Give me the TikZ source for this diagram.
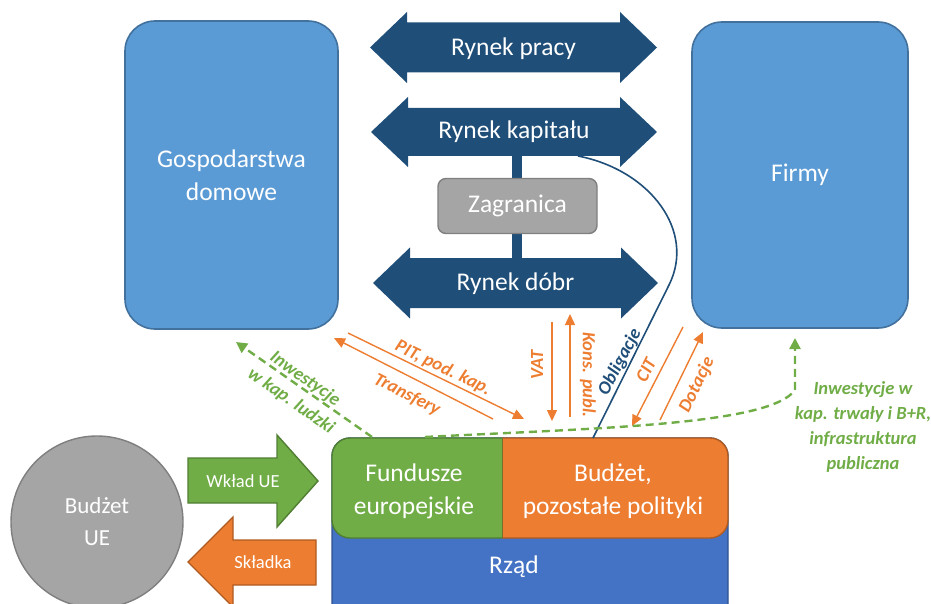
\documentclass[tikz,border=0pt]{standalone}
\usepackage{fontspec}
\setmainfont{Carlito}
\usetikzlibrary{arrows.meta}
\definecolor{boxblue}{HTML}{5B9BD5}
\definecolor{boxblueD}{HTML}{41719C}
\definecolor{navy}{HTML}{1F4E79}
\definecolor{grayF}{HTML}{A5A5A5}
\definecolor{grayD}{HTML}{7F7F7F}
\definecolor{gr}{HTML}{70AD47}
\definecolor{grD}{HTML}{507E32}
\definecolor{org}{HTML}{ED7D31}
\definecolor{orgD}{HTML}{AE5A21}
\definecolor{rz}{HTML}{4472C4}
\definecolor{rzD}{HTML}{2F528F}
\begin{document}
\begin{tikzpicture}[x=1pt,y=-1pt,
  bigtxt/.style={text=white,font=\fontsize{25.5}{33}\selectfont,align=center},
  sector/.style={draw=boxblueD,line width=1.6pt,fill=boxblue,rounded corners=30pt,
     bigtxt},
  mkt/.style={fill=navy},
  lab/.style={font=\fontsize{18.5}{22}\selectfont\bfseries\itshape,text=org,inner sep=0pt,align=center},
  glab/.style={lab,text=gr,font=\fontsize{18.5}{25}\selectfont\bfseries\itshape},
  flow/.style={draw=org,line width=1.4pt,-{Triangle[length=11pt,width=10pt]}},
  gflow/.style={draw=gr,line width=2.4pt,dash pattern=on 8pt off 5pt,-{Triangle[length=11pt,width=11pt]}},
  oblig/.style={draw=navy,line width=1.6pt}
]
\useasboundingbox (0,0) rectangle (931,604);

% sectors
\node[sector,minimum width=213pt,minimum height=308pt] (gosp) at (231.5,175) {Gospodarstwa\\domowe};
\node[sector,minimum width=216pt,minimum height=306pt] (firmy) at (800,175) {Firmy};

% market double arrows
\fill[mkt] (370,47.5) -- (407,12) -- (407,22.5) -- (620,22.5) -- (620,12) -- (657,47.5) -- (620,83) -- (620,72.5) -- (407,72.5) -- (407,83) -- cycle;
\node[bigtxt] (praca) at (513.5,48.5) {Rynek pracy};

\fill[mkt] (371,132) -- (408,97) -- (408,108) -- (620,108) -- (620,97) -- (657,132) -- (620,167) -- (620,156) -- (408,156) -- (408,167) -- cycle;
\node[bigtxt] (kapital) at (514,132) {Rynek kapitału};

% vertical link through Zagranica
\coordinate (kapB) at (517,150);
\coordinate (dobT) at (517,262);
\draw[navy,line width=10pt] (kapB) -- (dobT);

\fill[mkt] (373,283) -- (410,247.5) -- (410,258) -- (621,258) -- (621,247.5) -- (658,283) -- (621,318.5) -- (621,308) -- (410,308) -- (410,318.5) -- cycle;
\node[bigtxt] (dobra) at (515.5,284) {Rynek dóbr};

\node[draw=grayD,line width=1.4pt,fill=grayF,rounded corners=8pt,minimum width=159pt,minimum height=55pt,bigtxt] (zagr) at (517.5,206) {Zagranica};

% government block
\fill[rz,draw=rzD,line width=1.4pt,rounded corners=18pt] (332,438) rectangle (728,640);
\begin{scope}
  \clip (320,425) rectangle (502,550);
  \fill[gr,draw=grD,line width=1.4pt,rounded corners=18pt] (332,438) rectangle (728,538);
\end{scope}
\begin{scope}
  \clip (502,425) rectangle (740,550);
  \fill[org,draw=orgD,line width=1.4pt,rounded corners=18pt] (332,438) rectangle (728,538);
\end{scope}
\draw[grD!60!orgD,line width=1pt] (502,438) -- (502,538);
\node[bigtxt] (fund) at (414,491) {Fundusze\\europejskie};
\node[bigtxt] (budz) at (613,491) {Budżet,\\pozostałe polityki};
\node[bigtxt] (rzad) at (514,567) {Rząd};

% EU budget
\node[circle,draw=grayD,line width=1.4pt,fill=grayF,minimum size=172pt,text=white,
      font=\fontsize{23}{32}\selectfont,align=center] (ue) at (97,522) {Budżet\\UE};

% Wklad / Skladka arrows
\fill[gr,draw=grD,line width=1.4pt] (188,458) -- (277,458) -- (277,435) -- (318,481) -- (277,527) -- (277,503) -- (188,503) -- cycle;
\node[text=white,font=\fontsize{18.5}{22}\selectfont] (wklad) at (243,481) {Wkład UE};
\fill[org,draw=orgD,line width=1.4pt] (188,562) -- (233,517) -- (233,540) -- (316,540) -- (316,585) -- (233,585) -- (233,607) -- cycle;
\node[text=white,font=\fontsize{18.5}{22}\selectfont] (skladka) at (263,562) {Składka};

% Obligacje
\coordinate (oblS) at (578,156);
\coordinate (oblE) at (593,438);
\draw[oblig] (oblS) .. controls (650,170) and (696,231) .. (669,285) -- (oblE);
\node[lab,text=navy,rotate=62] (obl) at (620,362) {Obligacje};

% orange flows
\coordinate (pitS) at (348,333); \coordinate (pitE) at (524,419);
\draw[flow] (pitS) -- (pitE);
\node[lab,rotate=-26] (pit) at (443,368) {PIT, pod. kap.};
\coordinate (trS) at (493,419); \coordinate (trE) at (334,338);
\draw[flow] (trS) -- (trE);
\node[lab,rotate=-27] (transf) at (407,395) {Transfery};

\coordinate (vatS) at (552,322); \coordinate (vatE) at (552,421);
\draw[flow] (vatS) -- (vatE);
\node[lab,rotate=90] (vat) at (537,365) {VAT};
\coordinate (konS) at (570,417); \coordinate (konE) at (570,314);
\draw[flow] (konS) -- (konE);
\node[lab,rotate=-90] (kons) at (588,375) {Kons. publ.};

\coordinate (citS) at (683,327); \coordinate (citE) at (632,426);
\draw[flow] (citS) -- (citE);
\node[lab,rotate=63] (cit) at (646,370) {CIT};
\coordinate (dotS) at (660,420); \coordinate (dotE) at (703,332);
\draw[flow] (dotS) -- (dotE);
\node[lab,rotate=64] (dot) at (697,385) {Dotacje};

% green investment flows
\coordinate (ludS) at (372,437); \coordinate (ludE) at (236,342);
\draw[gflow] (ludS) -- (ludE);
\node[glab,rotate=-35] (ludz1) at (305,379) {Inwestycje};
\node[glab,rotate=-35] (ludz2) at (291,401) {w kap. ludzki};
\coordinate (trwS) at (425,437); \coordinate (trwE) at (795,338);
\draw[gflow] (trwS) .. controls (600,428) and (770,425) .. (795,390) -- (trwE);
\node[glab] (trw) at (863,427) {Inwestycje w\\kap. trwały i B+R,\\infrastruktura\\publiczna};
\end{tikzpicture}
\end{document}
